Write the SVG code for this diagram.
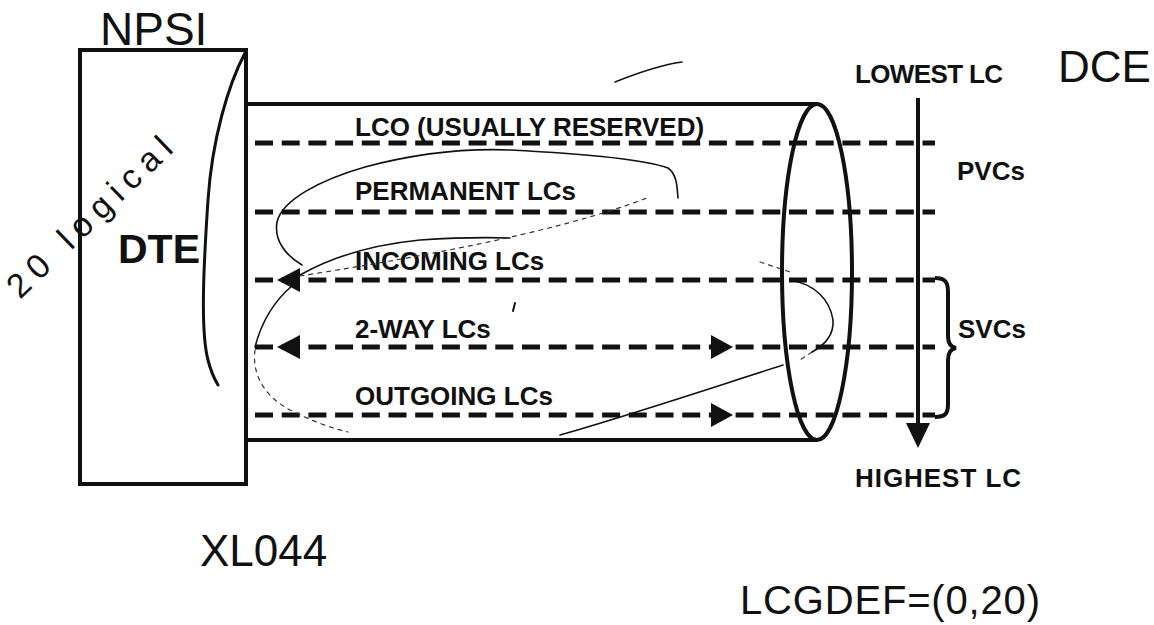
<svg xmlns="http://www.w3.org/2000/svg" width="1154" height="625" viewBox="0 0 1154 625">
<style>
.lbl{font-family:"Liberation Sans",Arial,sans-serif;font-weight:bold;font-size:26px;fill:#111}
.hand{font-family:"Liberation Sans",Arial,sans-serif;font-weight:normal;fill:#111}
.solid{fill:none;stroke:#111;stroke-width:4}
.dash{fill:none;stroke:#111;stroke-width:5;stroke-dasharray:18 8.7}
.ink{fill:none;stroke:#111;stroke-width:1.6;stroke-linecap:round}
.faint{fill:none;stroke:#333;stroke-width:1.2;stroke-dasharray:4 5;stroke-linecap:round}
.head{fill:#111}
</style>
<rect width="1154" height="625" fill="#fff"/>

<g id="dte">
  <rect class="solid" x="80" y="50" width="166" height="434"/>
  <text class="lbl" x="118" y="263" style="font-size:41px">DTE</text>
</g>

<g id="channel">
  <line class="solid" x1="246" y1="104" x2="817" y2="104"/>
  <line class="solid" x1="246" y1="440" x2="817" y2="440"/>
  <ellipse class="solid" cx="817" cy="272" rx="35" ry="168"/>
</g>

<g id="connectors">
  <line class="dash" x1="255" y1="143" x2="935" y2="143"/>
  <line class="dash" x1="255" y1="212" x2="935" y2="212"/>
  <line class="dash" x1="255" y1="280" x2="935" y2="280"/>
  <line class="dash" x1="255" y1="347" x2="935" y2="347"/>
  <line class="dash" x1="255" y1="415" x2="935" y2="415"/>
  <polygon class="head" points="277,280 300,268 300,292"/>
  <polygon class="head" points="277,347 300,335 300,359"/>
  <polygon class="head" points="733,347 711,335 711,359"/>
  <polygon class="head" points="733,415 711,403 711,427"/>
  <line class="solid" x1="918" y1="98" x2="918" y2="426"/>
  <polygon class="head" points="906,423 930,423 918,448"/>
  <path class="solid" d="M935,278 C946,278 948,283 948,292 L948,336 C948,343 950,347 956,348 C950,349 948,353 948,360 L948,404 C948,413 946,417 935,417"/>
</g>

<g id="labels">
  <text class="lbl" x="355" y="136">LCO (USUALLY RESERVED)</text>
  <text class="lbl" x="355" y="200">PERMANENT LCs</text>
  <text class="lbl" x="355" y="270">INCOMING LCs</text>
  <text class="lbl" x="355" y="338">2-WAY LCs</text>
  <text class="lbl" x="355" y="405">OUTGOING LCs</text>
  <text class="lbl" x="855" y="83" textLength="148">LOWEST LC</text>
  <text class="lbl" x="957" y="180">PVCs</text>
  <text class="lbl" x="958" y="338">SVCs</text>
  <text class="lbl" x="855" y="487" textLength="166">HIGHEST LC</text>
</g>

<g id="handwriting">
  <text class="hand" x="100" y="45" style="font-size:46px">NPSI</text>
  <text class="hand" x="1058" y="82" style="font-size:44px">DCE</text>
  <text class="hand" x="200" y="566" style="font-size:44px">XL044</text>
  <text class="hand" x="740" y="614" style="font-size:40px" textLength="300">LCGDEF=(0,20)</text>
  <text class="hand" transform="translate(20,300) rotate(-44)" style="font-size:34px" textLength="215">20 logical</text>
  <path class="ink" style="stroke-width:3" d="M245,53 C228,85 212,140 208,200 C204,260 200,330 208,360 C211,372 215,380 218,385"/>
  <path class="ink" d="M302,265 C285,255 274,240 277,222 C282,200 320,180 365,167 C410,155 460,148 510,150 C570,153 640,158 668,168 C678,175 677,190 678,198"/>
  <path class="ink" d="M300,275 C330,258 370,245 420,240 C450,238 480,237 510,238"/>
  <path class="faint" d="M300,276 C400,260 550,235 647,198"/>
  <path class="ink" d="M293,285 C275,300 262,320 255,347"/>
  <path class="faint" d="M255,350 C252,372 262,395 290,410 C310,420 330,428 348,432"/>
  <path class="ink" d="M560,435 C640,412 720,385 783,365"/>
  <path class="faint" d="M760,262 L790,272"/>
  <path class="ink" d="M790,280 C815,284 830,300 833,320 C834,335 825,345 812,352"/>
  <path class="faint" d="M812,352 L800,360"/>
  <path class="ink" d="M615,82 C640,72 660,65 682,62"/>
  <path class="ink" style="stroke-width:2" d="M515,303 L513,311"/>
</g>
</svg>
